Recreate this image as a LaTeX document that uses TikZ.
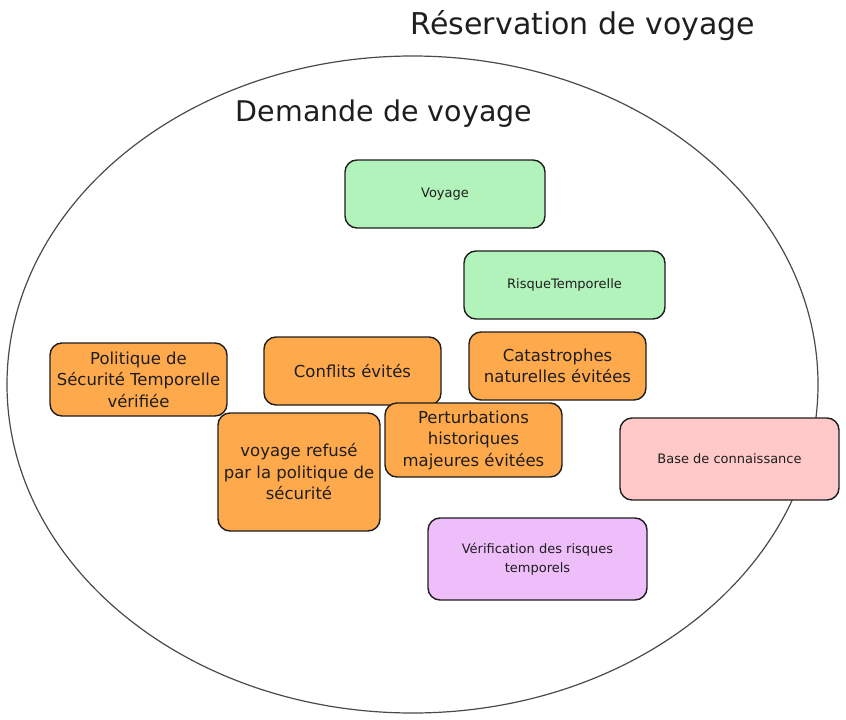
\documentclass[tikz,border=0pt]{standalone}
\usepackage{fontspec}
\setmainfont{DejaVu Sans}
\usetikzlibrary{shapes.geometric}
\definecolor{cgreen}{HTML}{B2F2BB}
\definecolor{corange}{HTML}{FFA94D}
\definecolor{cpink}{HTML}{FFC9C9}
\definecolor{cpurple}{HTML}{EEBEFA}
\definecolor{cline}{HTML}{1E1E1E}
\definecolor{cring}{HTML}{4A4A4A}
\tikzset{
  card/.style={draw=cline, line width=1.4pt, rounded corners=12pt, align=center, inner sep=2pt, text=cline},
  smalltxt/.style={font=\fontsize{13}{19}\selectfont},
  bigtxt/.style={font=\fontsize{16.5}{21.5}\selectfont},
  titletxt/.style={font=\fontsize{30}{34}\selectfont, text=cline},
  subtxt/.style={font=\fontsize{28.5}{34}\selectfont, text=cline},
}
\begin{document}
\begin{tikzpicture}[x=1pt,y=-1pt]
\useasboundingbox (0,0) rectangle (846,720);
\node[ellipse, draw=cring, line width=1.2pt, minimum width=811pt, minimum height=657pt, inner sep=0pt] (outer) at (412.5,384.5) {};
\node[titletxt] (title) at (583,26) {Réservation de voyage};
\node[subtxt] (sub) at (384,114) {Demande de voyage};

\node[card, smalltxt, fill=cgreen, minimum width=200pt, minimum height=68pt] (voyage) at (445,194) {Voyage};
\node[card, smalltxt, fill=cgreen, minimum width=201pt, minimum height=68pt] (risque) at (564.5,285) {RisqueTemporelle};

\node[card, bigtxt, fill=corange, minimum width=177pt, minimum height=73pt] (politique) at (138.5,379.5) {Politique de\\Sécurité Temporelle\\vérifiée};
\node[card, bigtxt, fill=corange, minimum width=177pt, minimum height=68pt] (conflits) at (352.5,371) {Conflits évités};
\node[card, bigtxt, fill=corange, minimum width=177pt, minimum height=68pt] (catas) at (557.5,366) {Catastrophes\\naturelles évitées};
\node[card, bigtxt, fill=corange, minimum width=162pt, minimum height=118pt] (refuse) at (299,472) {voyage refusé\\par la politique de\\sécurité};
\node[card, bigtxt, fill=corange, minimum width=177pt, minimum height=74pt] (perturb) at (473.5,440) {Perturbations\\historiques\\majeures évitées};

\node[card, smalltxt, fill=cpink, minimum width=219pt, minimum height=82pt] (base) at (729.5,459) {Base de connaissance};
\node[card, smalltxt, fill=cpurple, minimum width=219pt, minimum height=82pt] (verif) at (537.5,559) {Vérification des risques\\temporels};
\end{tikzpicture}
\end{document}
